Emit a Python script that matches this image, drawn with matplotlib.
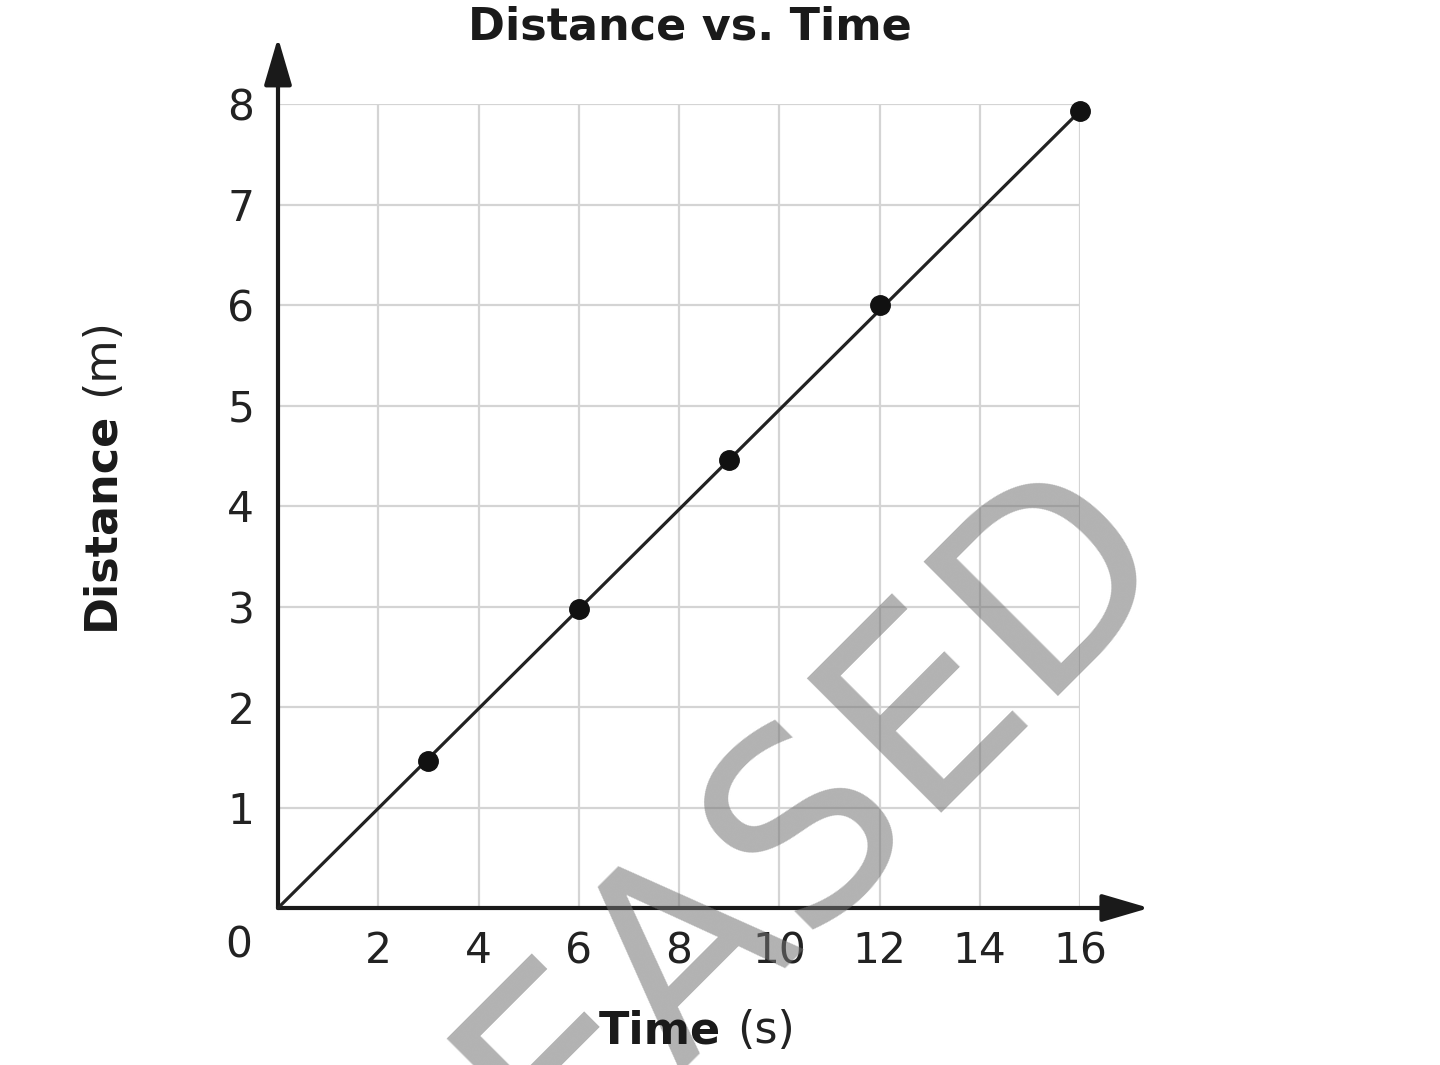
import matplotlib
matplotlib.use("Agg")
import matplotlib.pyplot as plt

# Data
time_s = [3, 6, 9, 12, 16]
distance_m = [1.46, 2.98, 4.46, 6.0, 7.93]
line_t = [0, 16]
line_d = [0, 7.93]
x_ticks = [2, 4, 6, 8, 10, 12, 14, 16]
y_ticks = [1, 2, 3, 4, 5, 6, 7, 8]

W, H = 1440, 1065
fig = plt.figure(figsize=(W / 100, H / 100), dpi=100)
plt.rcParams['font.family'] = ['DejaVu Sans']

ax = fig.add_axes([278 / W, 1 - 908 / H, (1080 - 278) / W, (908 - 104) / H])
ax.set_xlim(0, 16)
ax.set_ylim(0, 8)
for s in ax.spines.values():
    s.set_visible(False)

ax.set_xticks(x_ticks)
ax.set_yticks(y_ticks)
ax.set_xticklabels([str(v) for v in x_ticks])
ax.set_yticklabels([str(v) for v in y_ticks])
ax.tick_params(axis='both', length=0, labelsize=30.5, colors='#222222')
ax.tick_params(axis='x', pad=16)
ax.tick_params(axis='y', pad=17)
ax.grid(True, color='#d4d4d4', lw=1.6, zorder=0)
ax.set_axisbelow(True)

# "0" at origin
ax.annotate('0', xy=(0, 0), xytext=(-39, -38), textcoords='offset pixels',
            ha='center', va='center', fontsize=30.5, color='#222222',
            annotation_clip=False)

# axes with arrows
arrow_style = '-|>,head_length=2.9,head_width=0.85'
ax.annotate('', xy=(17.38, 0), xytext=(0, 0),
            arrowprops=dict(arrowstyle=arrow_style,
                            lw=3, color='#1a1a1a', shrinkA=0, shrinkB=0),
            annotation_clip=False, zorder=5)
ax.annotate('', xy=(0, 8.66), xytext=(0, 0),
            arrowprops=dict(arrowstyle=arrow_style,
                            lw=3, color='#1a1a1a', shrinkA=0, shrinkB=0),
            annotation_clip=False, zorder=5)

# watermark
fig.text(1175 / W, 1 - 553 / H, 'RELEASED', rotation=45, rotation_mode='anchor',
         ha='right', va='baseline', fontsize=188, color='0.45', alpha=0.55,
         zorder=2)

# data
ax.plot(line_t, line_d, color='#222222', lw=2.3, zorder=6, clip_on=False)
ax.plot(time_s, distance_m, 'o', color='#111111', markersize=14, zorder=7,
        clip_on=False)

# title and labels
fig.text(690 / W, 1 - 40 / H, 'Distance vs. Time', ha='center', va='baseline',
         fontsize=32, fontweight='bold', color='#1a1a1a')
fig.text(721 / W, 1 - 1043 / H, 'Time', ha='right', va='baseline',
         fontsize=32, fontweight='bold', color='#1a1a1a')
fig.text(737 / W, 1 - 1043 / H, '(s)', ha='left', va='baseline',
         fontsize=32, color='#222222')
fig.text(113 / W, 1 - 630 / H, 'Distance', rotation=90, rotation_mode='anchor',
         ha='left', va='baseline', fontsize=32, fontweight='bold', color='#1a1a1a')
fig.text(113 / W, 1 - 396 / H, '(m)', rotation=90, rotation_mode='anchor',
         ha='left', va='baseline', fontsize=32, color='#222222')

fig.savefig('out.png', dpi=100)
